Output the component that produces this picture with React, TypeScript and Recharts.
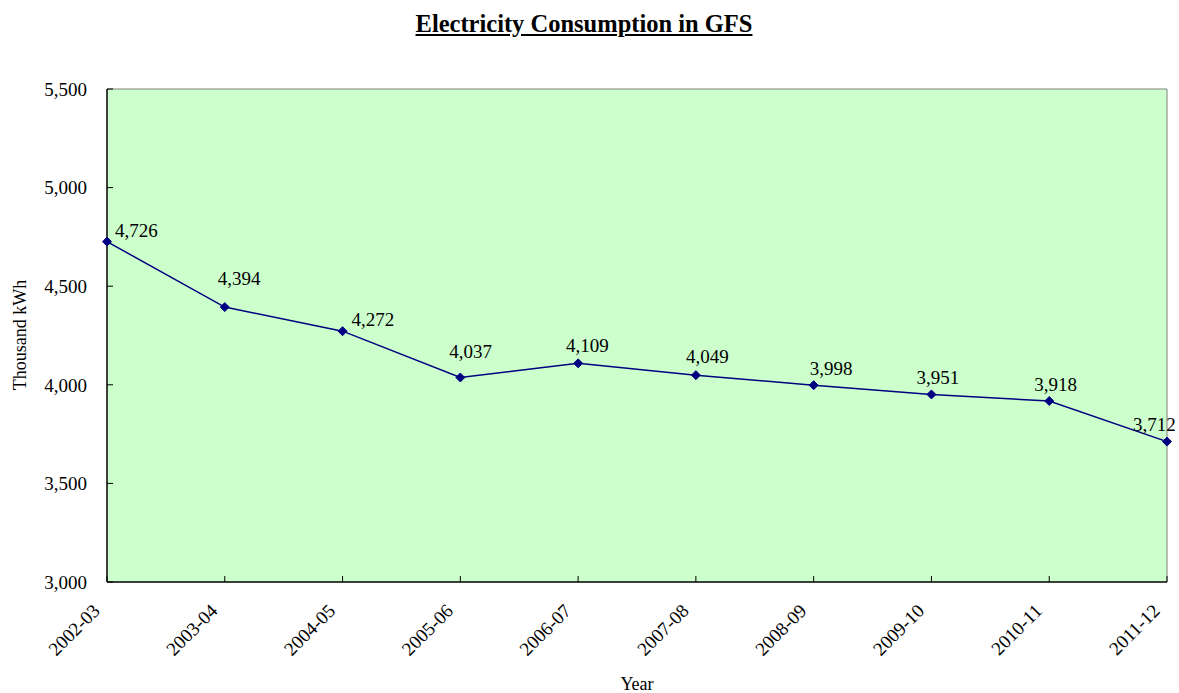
import React from 'react';
import { CartesianGrid, LabelList, Line, LineChart, ReferenceLine, XAxis, YAxis } from 'recharts';

const years = ['2002-03', '2003-04', '2004-05', '2005-06', '2006-07', '2007-08', '2008-09', '2009-10', '2010-11', '2011-12'];
const consumption = [4726, 4394, 4272, 4037, 4109, 4049, 3998, 3951, 3918, 3712];
const yTicks = [3000, 3500, 4000, 4500, 5000, 5500];

const chartData = years.map((year, i) => ({ year, kwh: consumption[i] }));

// where each value label sits relative to its point (left edge, baseline)
const labelOffsets = [
  [8, -5], [-7, -22], [9, -5], [-11, -20], [-12, -11],
  [-10, -12], [-4, -10], [-15, -10], [-15, -10], [-34, -11]
];

const FONT = '"Liberation Serif", "Times New Roman", serif';
const NAVY = '#000080';

function Diamond({ cx, cy }: any) {
  if (cx == null || cy == null) return null;
  const r = 4.5;
  return <polygon points={`${cx},${cy - r} ${cx + r},${cy} ${cx},${cy + r} ${cx - r},${cy}`} fill={NAVY} stroke={NAVY} />;
}

function ValueLabel({ x, y, value, index }: any) {
  const [dx, dy] = labelOffsets[index] ?? [0, -10];
  return (
    <text x={x + dx} y={y + dy} fontSize={19} fontFamily={FONT} fill="#000" textAnchor="start">
      {Number(value).toLocaleString('en-US')}
    </text>
  );
}

function YearTick({ x, y, payload }: any) {
  const tx = x - 6;
  const ty = y + 14;
  return (
    <text x={tx} y={ty} fontSize={19} fontFamily={FONT} fill="#000" textAnchor="end" transform={`rotate(-45, ${tx}, ${ty})`}>
      {payload.value}
    </text>
  );
}

export default function App() {
  return (
    <div style={{ position: 'absolute', left: 0, top: 0, width: 1179, height: 693, background: '#fff', fontFamily: FONT }}>
      <div style={{ position: 'absolute', left: 0, top: 10, width: 1168, textAlign: 'center', fontSize: 24.5, fontWeight: 'bold', textDecoration: 'underline' }}>
        Electricity Consumption in GFS
      </div>
      <div style={{ position: 'absolute', left: 20, top: 335, transform: 'translate(-50%, -50%) rotate(-90deg)', fontSize: 18, whiteSpace: 'nowrap' }}>
        Thousand kWh
      </div>
      <div style={{ position: 'absolute', left: 637, top: 684, transform: 'translate(-50%, -50%)', fontSize: 18 }}>
        Year
      </div>
      <LineChart width={1179} height={693} data={chartData} margin={{ top: 89, right: 12, bottom: 0, left: 0 }} style={{ position: 'absolute', left: 0, top: 0 }}>
        <CartesianGrid horizontal={false} vertical={false} fill="#CCFFCC" />
        <ReferenceLine y={5500} stroke="#808080" />
        <ReferenceLine x="2011-12" stroke="#808080" />
        <XAxis
          dataKey="year"
          height={111}
          interval={0}
          tickSize={-6}
          tickMargin={22}
          tick={<YearTick />}
          axisLine={{ stroke: '#000', strokeWidth: 1.5 }}
          tickLine={{ stroke: '#000' }}
        />
        <YAxis
          width={107}
          domain={[3000, 5500]}
          ticks={yTicks}
          interval={0}
          tickSize={-6}
          tickMargin={26}
          tickFormatter={(v: number) => v.toLocaleString('en-US')}
          tick={{ fontSize: 19, fontFamily: FONT, fill: '#000' }}
          axisLine={{ stroke: '#000', strokeWidth: 1.5 }}
          tickLine={{ stroke: '#000' }}
        />
        <Line
          type="linear"
          dataKey="kwh"
          stroke={NAVY}
          strokeWidth={1.5}
          dot={<Diamond />}
          activeDot={false}
          isAnimationActive={false}
        >
          <LabelList dataKey="kwh" content={<ValueLabel />} />
        </Line>
      </LineChart>
    </div>
  );
}
